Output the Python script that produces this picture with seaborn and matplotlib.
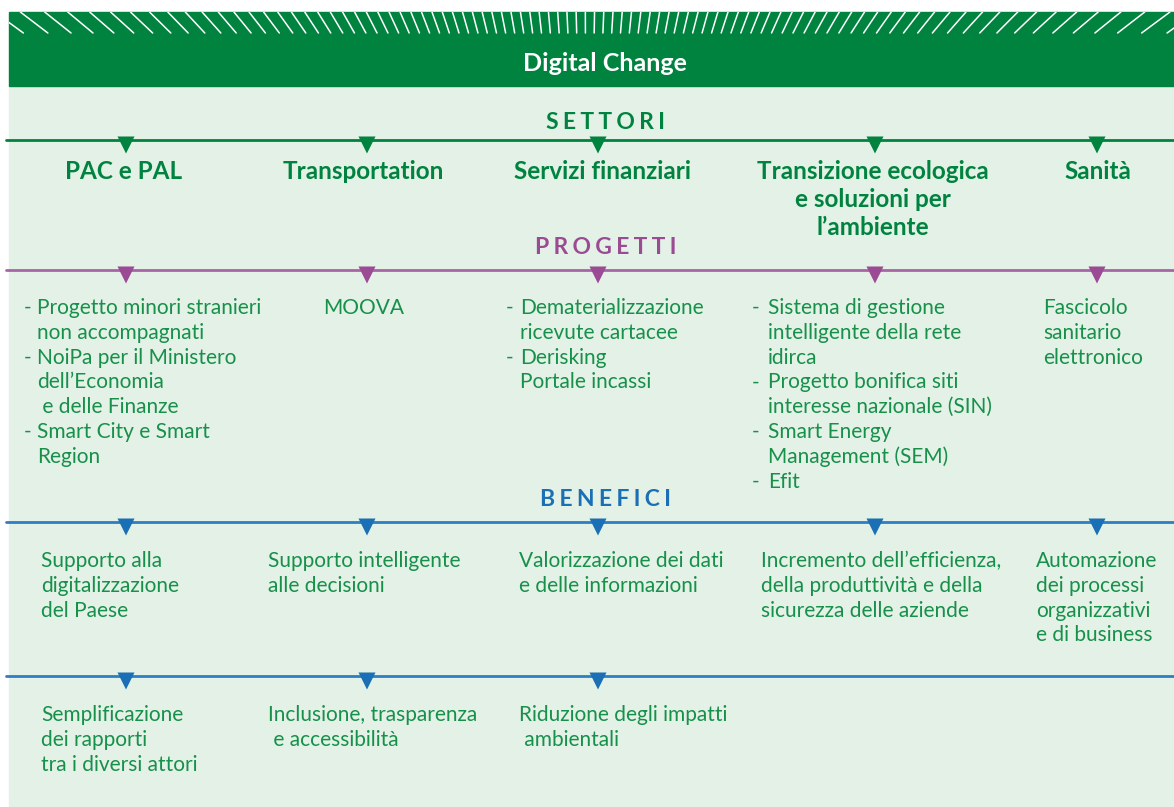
import numpy as np
import pandas as pd
import matplotlib
matplotlib.use('Agg')
import matplotlib.pyplot as plt
import matplotlib.patches as mpatches
import seaborn as sns

# Content of the infographic
title = 'Digital Change'
section_titles = ['SETTORI', 'PROGETTI', 'BENEFICI']
sectors = ['PAC e PAL', 'Transportation', 'Servizi finanziari',
           'Transizione ecologica\ne soluzioni per\nl\u2019ambiente', 'Sanità']
projects = [
    ['- Progetto minori stranieri', 'non accompagnati', '- NoiPa per il Ministero',
     'dell\u2019Economia', ' e delle Finanze', '- Smart City e Smart', 'Region'],
    ['MOOVA'],
    ['- Dematerializzazione', 'ricevute cartacee', '- Derisking', 'Portale incassi'],
    ['- Sistema di gestione', 'intelligente della rete', 'idirca',
     '- Progetto bonifica siti', 'interesse nazionale (SIN)', '- Smart Energy',
     'Management (SEM)', '- Efit'],
    ['Fascicolo', 'sanitario', 'elettronico'],
]
benefits_1 = [
    ['Supporto alla', 'digitalizzazione', 'del Paese'],
    ['Supporto intelligente', 'alle decisioni'],
    ['Valorizzazione dei dati', 'e delle informazioni'],
    ['Incremento dell\u2019efficienza,', 'della produttività e della', 'sicurezza delle aziende'],
    ['Automazione', 'dei processi', 'organizzativi', 'e di business'],
]
benefits_2 = [
    ['Semplificazione', 'dei rapporti', 'tra i diversi attori'],
    ['Inclusione, trasparenza', ' e accessibilità'],
    ['Riduzione degli impatti', ' ambientali'],
]

# Layout (pixels)
W, H = 1174, 807
col_x = [126, 367, 598, 875, 1097]
sector_x = [124, 363, 603, 873, 1098]
dash_x = [24, 323, 506, 752, 1043]
proj_x = [37, 323, 520, 768, 1043]
ben_x = [41, 268, 519, 761, 1036]

GREEN = '#00833F'
TXT = '#17904A'
LIGHT = '#E3F1E7'
PURPLE = '#9B4B93'
PURPLE_LINE = '#A865A6'
BLUE = '#1B6FB5'
BLUE_LINE = '#2C7FC3'

sns.set_theme(style='white')
plt.rcParams['font.family'] = ['Lato', 'DejaVu Sans']

fig = plt.figure(figsize=(W / 100, H / 100), dpi=100)
ax = fig.add_axes([0, 0, 1, 1])
ax.set_xlim(0, W)
ax.set_ylim(H, 0)
ax.axis('off')
fig.patch.set_facecolor('white')

# background panels
ax.add_patch(mpatches.Rectangle((9, 86), W - 9, H - 86, color=LIGHT, zorder=0))
band = mpatches.Rectangle((9, 12), W - 9, 74, color=GREEN, zorder=1)
ax.add_patch(band)

# radiating white hatch in the top of the header
cx, cy = 587, 444
for ang in np.arange(-60, 60.1, 1.22):
    t = np.tan(np.radians(ang))
    x0, x1 = cx + (cy - 12) * t, cx + (cy - 33) * t
    ln, = ax.plot([x0, x1], [12, 33], color='white', lw=1.1, zorder=2)
    ln.set_clip_path(band)

ax.text(605, 71, title, color='white', fontsize=18, fontweight='bold',
        ha='center', va='baseline', zorder=3)


def spaced(s):
    return '\u2009\u200a'.join(s)


def lines_at(x, y0, lines, pitch, **kw):
    for i, s in enumerate(lines):
        ax.text(x, y0 + i * pitch, s, va='baseline', **kw)


# section dividers with triangles
dividers = [(140, GREEN, GREEN), (270, PURPLE_LINE, PURPLE), (522, BLUE_LINE, BLUE),
            (676, BLUE_LINE, BLUE)]
for y, lc, tc in dividers:
    ax.plot([6, W], [y, y], color=lc, lw=2, zorder=2)
    tri = pd.DataFrame({'x': col_x if y != 676 else col_x[:3], 'y': y + 5})
    sns.scatterplot(data=tri, x='x', y='y', marker='v', s=150, color=tc,
                    edgecolor='none', ax=ax, zorder=3, legend=False)

# section headings
for txt, y, c in zip(section_titles, [129, 254, 506], [GREEN, PURPLE, BLUE]):
    ax.text(606, y, spaced(txt), color=c, fontsize=16.5, fontweight='bold',
            ha='center', va='baseline', family=['Lato', 'DejaVu Sans'])

# sectors
for x, s in zip(sector_x, sectors):
    lines_at(x, 179, s.split('\n'), 28, ha='center', color=GREEN,
             fontsize=17.5, fontweight='bold')

# projects (dash drawn separately so wrapped lines align)
for dx, x, p in zip(dash_x, proj_x, projects):
    for i, s in enumerate(p):
        y = 314 + i * 24.8
        if s.startswith('- '):
            ax.text(dx, y, '-', color=TXT, fontsize=15, va='baseline')
            s = s[2:]
        ax.text(x, y, s, color=TXT, fontsize=15, va='baseline')

# benefits
for x, b in zip(ben_x, benefits_1):
    lines_at(x, 567, b, 24.8, ha='left', color=TXT, fontsize=15)
for x, b in zip(ben_x, benefits_2):
    lines_at(x, 721, b, 24.8, ha='left', color=TXT, fontsize=15)

fig.savefig('out.png', dpi=100)
